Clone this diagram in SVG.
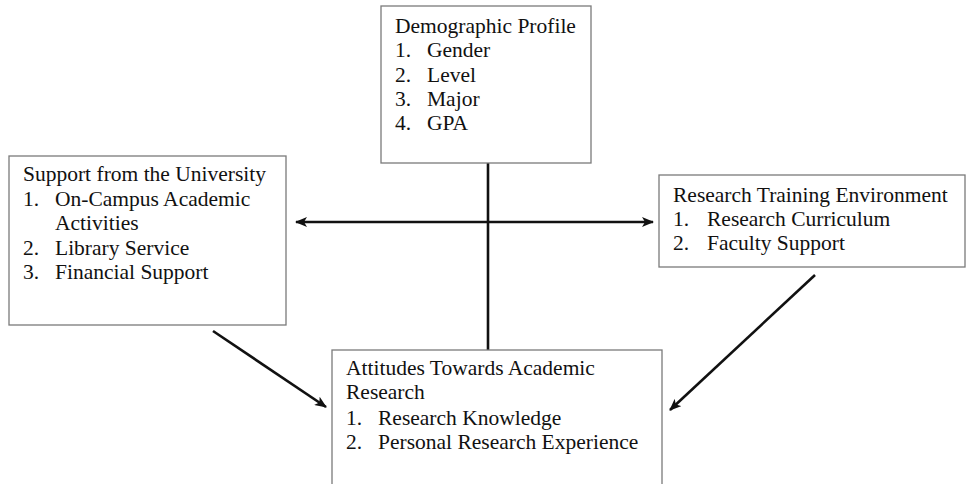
<svg xmlns="http://www.w3.org/2000/svg" width="966" height="484" viewBox="0 0 966 484">
  <style>
    .box { fill: #ffffff; stroke: #7a7a7a; stroke-width: 1.3; }
    .txt { font-family: "Liberation Serif", "Times New Roman", Times, serif; font-size: 21.5px; fill: #111111; }
    .link { stroke: #111111; stroke-width: 2.6; fill: none; }
  </style>
  <defs>
    <marker id="head" viewBox="0 0 12 10" refX="11" refY="5" markerWidth="12" markerHeight="10" markerUnits="userSpaceOnUse" orient="auto-start-reverse">
      <path d="M0,0 L12,5 L0,10 L3,5 Z" fill="#111111"/>
    </marker>
  </defs>
  <rect width="966" height="484" fill="#ffffff"/>

  <g id="connectors">
    <line class="link" x1="488" y1="163" x2="488" y2="350"/>
    <line class="link" x1="296" y1="222" x2="653" y2="222" marker-start="url(#head)" marker-end="url(#head)"/>
    <line class="link" x1="213" y1="331" x2="326" y2="407" marker-end="url(#head)"/>
    <line class="link" x1="815" y1="275" x2="670" y2="410" marker-end="url(#head)"/>
  </g>

  <g id="demographic-profile">
    <rect class="box" x="381" y="6" width="210" height="157"/>
    <text class="txt" x="395" y="33">Demographic Profile</text>
    <text class="txt" x="395" y="57">1.</text><text class="txt" x="427" y="57">Gender</text>
    <text class="txt" x="395" y="82">2.</text><text class="txt" x="427" y="82">Level</text>
    <text class="txt" x="395" y="106">3.</text><text class="txt" x="427" y="106">Major</text>
    <text class="txt" x="395" y="130">4.</text><text class="txt" x="427" y="130">GPA</text>
  </g>

  <g id="university-support">
    <rect class="box" x="9" y="156" width="277" height="169"/>
    <text class="txt" x="23" y="181">Support from the University</text>
    <text class="txt" x="23" y="206">1.</text><text class="txt" x="55" y="206">On-Campus Academic</text>
    <text class="txt" x="55" y="230">Activities</text>
    <text class="txt" x="23" y="255">2.</text><text class="txt" x="55" y="255">Library Service</text>
    <text class="txt" x="23" y="279">3.</text><text class="txt" x="55" y="279">Financial Support</text>
  </g>

  <g id="training-environment">
    <rect class="box" x="659" y="175" width="306" height="92"/>
    <text class="txt" x="673" y="202">Research Training Environment</text>
    <text class="txt" x="673" y="226">1.</text><text class="txt" x="707" y="226">Research Curriculum</text>
    <text class="txt" x="673" y="250">2.</text><text class="txt" x="707" y="250">Faculty Support</text>
  </g>

  <g id="research-attitudes">
    <rect class="box" x="332" y="350" width="330" height="140"/>
    <text class="txt" x="346" y="375">Attitudes Towards Academic</text>
    <text class="txt" x="346" y="399">Research</text>
    <text class="txt" x="346" y="425">1.</text><text class="txt" x="378" y="425">Research Knowledge</text>
    <text class="txt" x="346" y="449">2.</text><text class="txt" x="378" y="449">Personal Research Experience</text>
  </g>
</svg>
